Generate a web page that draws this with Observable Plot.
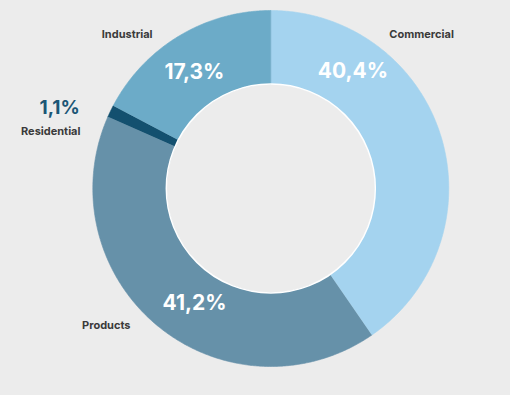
<!DOCTYPE html>
<html>
<head>
<meta charset="utf-8">
<script src="https://cdn.jsdelivr.net/npm/d3@7"></script>
<script src="https://cdn.jsdelivr.net/npm/@observablehq/plot@0.6"></script>
<style>
  html, body { margin: 0; padding: 0; background: #ececec; }
  #chart { width: 510px; height: 395px; overflow: hidden; }
</style>
</head>
<body>
<div id="chart"></div>
<script>
// ---- data ----
const categories = ["Commercial", "Products", "Residential", "Industrial"];
const shares = [40.4, 41.2, 1.1, 17.3];
const shareLabels = ["40,4%", "41,2%", "1,1%", "17,3%"];

// ---- styles / layout ----
const colors = ["#a4d3ef", "#6691a9", "#13506f", "#6cabc8"];
const pctColors = ["#ffffff", "#ffffff", "#1b5676", "#ffffff"];
const outerR = 178, innerR = 104.5;
// label placement (angle clockwise from top in degrees, radius)
const pctPlace = [[35, 143], [213.5, 138], [293, 207.5], [326.8, 139.5]];
const namePlace = [[44.4, 215.5], [230.3, 213.8], [286.8, 198.8], [317, 210.6]];
const nameAnchor = ["middle", "middle", "end", "middle"];

const total = d3.sum(shares);
const rad = (deg) => deg * Math.PI / 180;
const px = (a, r) => r * Math.sin(rad(a));
const py = (a, r) => r * Math.cos(rad(a));

// arc polygons built from the shares
const arcPts = [];
let start = 0;
categories.forEach((c, i) => {
  const span = shares[i] / total * 360;
  const a0 = start, a1 = start + span;
  const n = Math.max(4, Math.ceil(span / 0.5));
  for (let k = 0; k <= n; k++) { const a = a0 + (a1 - a0) * k / n; arcPts.push({cat: c, x: px(a, outerR), y: py(a, outerR)}); }
  for (let k = n; k >= 0; k--) { const a = a0 + (a1 - a0) * k / n; arcPts.push({cat: c, x: px(a, innerR), y: py(a, innerR)}); }
  start = a1;
});

const pctData = categories.map((c, i) => ({cat: c, label: shareLabels[i], x: px(pctPlace[i][0], pctPlace[i][1]), y: py(pctPlace[i][0], pctPlace[i][1]), color: pctColors[i], anchor: nameAnchor[i]}));
const nameData = categories.map((c, i) => ({cat: c, x: px(namePlace[i][0], namePlace[i][1]), y: py(namePlace[i][0], namePlace[i][1]), anchor: nameAnchor[i]}));

const font = "Inter, 'Open Sans', sans-serif";

const chart = Plot.plot({
  width: 510,
  height: 395,
  margin: 0,
  style: {background: "#ececec", fontFamily: font},
  x: {domain: [-270.3, 239.7], range: [0, 510], axis: null},
  y: {domain: [-207, 188], range: [395, 0], axis: null},
  color: {domain: categories, range: colors},
  marks: [
    Plot.line(arcPts, {x: "x", y: "y", z: "cat", fill: "cat", stroke: "cat", strokeWidth: 0.6, curve: "linear"}),
    Plot.dot([{x: 0, y: 0}], {x: "x", y: "y", r: innerR, fill: "none", stroke: "#ffffff", strokeWidth: 1.5}),
    Plot.text(pctData.filter(d => d.anchor === "middle"), {x: "x", y: "y", text: "label", fill: "color", fontSize: 21, fontWeight: 700, fontFamily: font, textAnchor: "middle"}),
    Plot.text(pctData.filter(d => d.anchor === "end"), {x: "x", y: "y", text: "label", fill: "color", fontSize: 19, fontWeight: 700, fontFamily: font, textAnchor: "end"}),
    Plot.text(nameData.filter(d => d.anchor === "middle"), {x: "x", y: "y", text: "cat", fill: "#3a3a3a", fontSize: 11, fontWeight: 700, fontFamily: font, textAnchor: "middle"}),
    Plot.text(nameData.filter(d => d.anchor === "end"), {x: "x", y: "y", text: "cat", fill: "#3a3a3a", fontSize: 11, fontWeight: 700, fontFamily: font, textAnchor: "end"})
  ]
});
document.getElementById("chart").appendChild(chart);
</script>
</body>
</html>
